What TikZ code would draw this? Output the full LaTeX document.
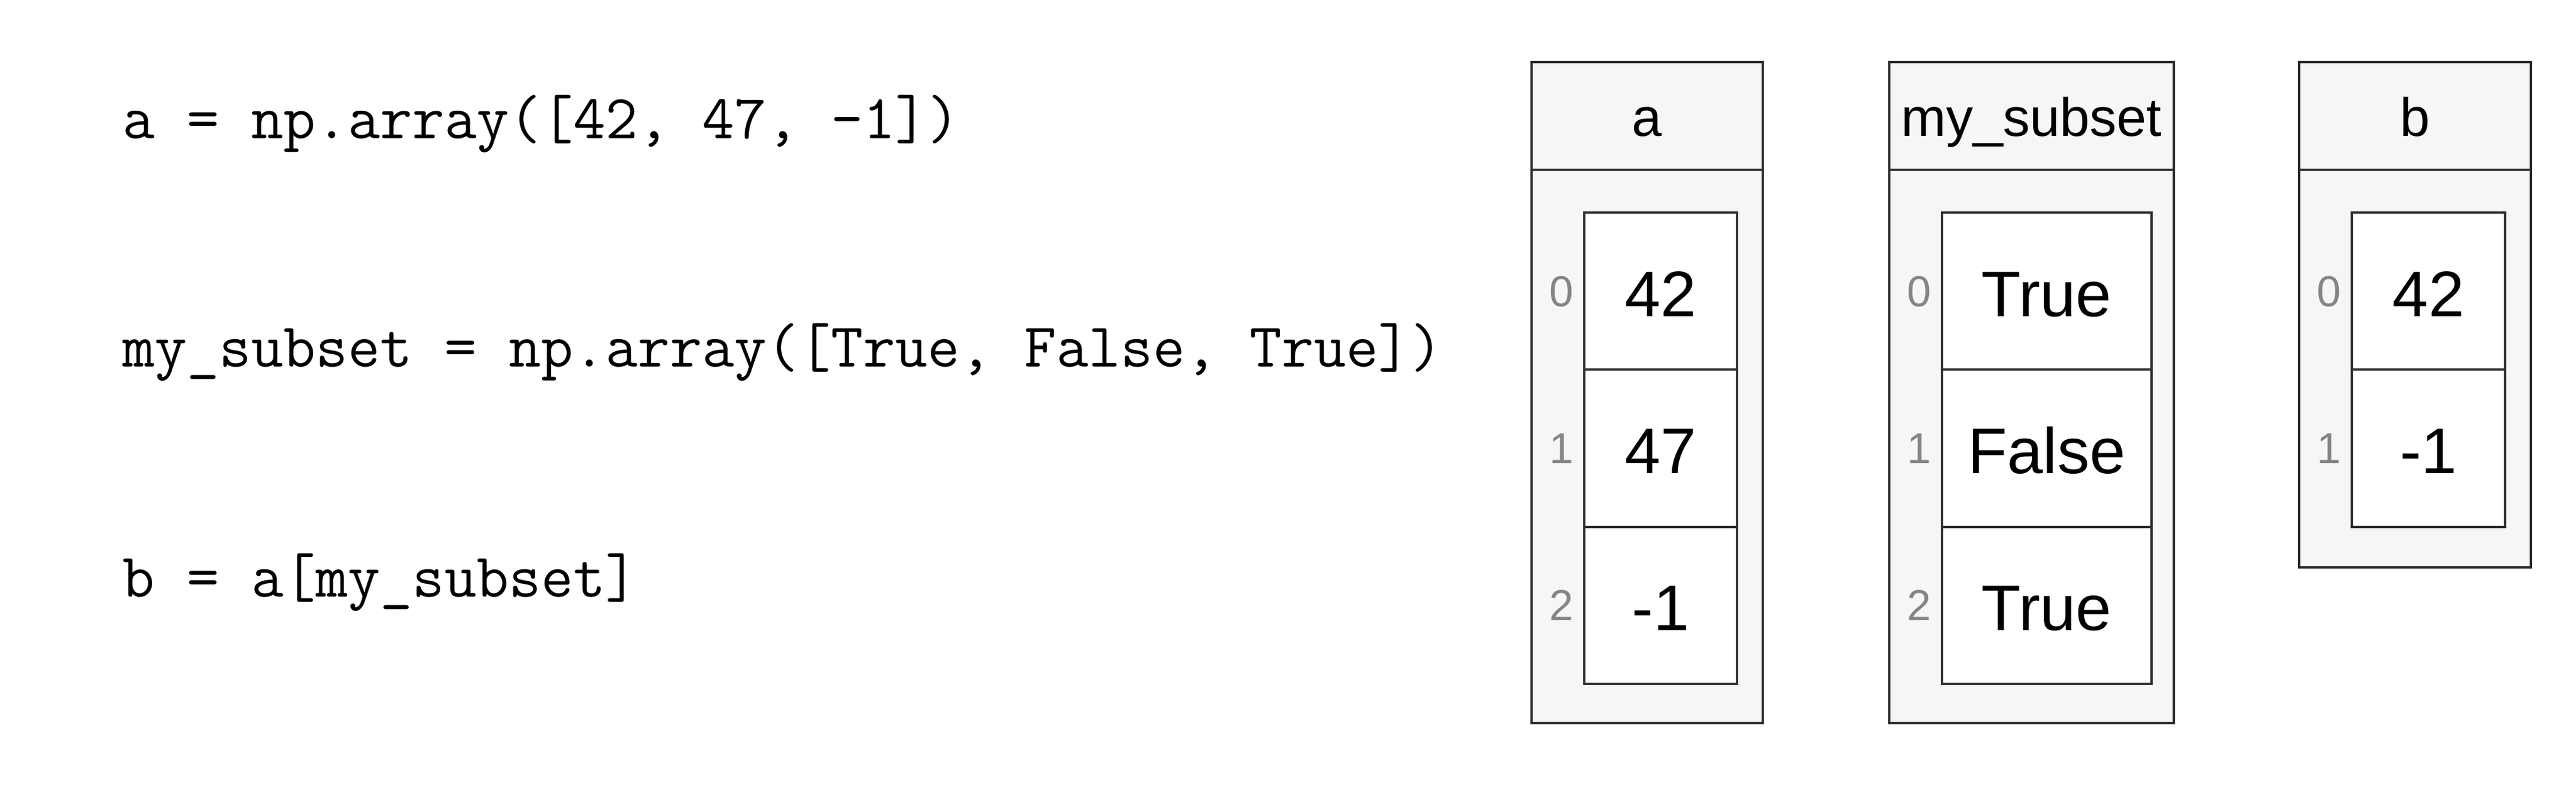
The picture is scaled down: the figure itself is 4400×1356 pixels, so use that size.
\documentclass[tikz,border=0pt]{standalone}
\usepackage{fontspec}
\newfontfamily\arialf{Liberation Sans}
\definecolor{boxfill}{HTML}{F5F6F8}
\definecolor{boxline}{HTML}{303030}
\definecolor{idxgray}{HTML}{858585}
\tikzset{
  frame/.style={draw=boxline, fill=boxfill, line width=1pt, rectangle, inner sep=0pt, anchor=north west},
  head/.style={frame, text height=17.5pt, text depth=0pt, font=\arialf\fontsize{23}{26}\selectfont},
  cellbox/.style={draw=boxline, fill=white, line width=1pt, rectangle, inner sep=0pt,
    minimum height=67.08pt, text height=21.5pt, text depth=0pt,
    font=\arialf\fontsize{27.5}{30}\selectfont},
  idx/.style={anchor=base, inner sep=0pt, text=idxgray, font=\arialf\fontsize{18.5}{20}\selectfont},
  code/.style={anchor=base west, inner sep=0pt, font=\ttfamily\fontsize{26.7}{29}\selectfont},
}
\begin{document}
\begin{tikzpicture}[x=0.25pt, y=-0.25pt]
\useasboundingbox (0,0) rectangle (4400,1356);

% code lines
\node[code] (l1) at (209,237) {a = np.array([42, 47, -1])};
\node[code] (l2) at (209,627) {my\_subset = np.array([True, False, True])};
\node[code] (l3) at (209,1019) {b = a[my\_subset]};

% array a
\node[frame, minimum width=98.75pt, minimum height=236.25pt] (aBody) at (2614,288) {};
\node[head, minimum width=98.75pt, minimum height=46pt] (aHead) at (2614,104) {a};
\node[cellbox, minimum width=65.25pt] (a0) at (2836.5,497.17) {42};
\node[cellbox, minimum width=65.25pt] (a1) at (2836.5,765.5) {47};
\node[cellbox, minimum width=65.25pt] (a2) at (2836.5,1033.83) {-1};
\node[idx] (ai0) at (2667,523.17) {0};
\node[idx] (ai1) at (2667,791.5) {1};
\node[idx] (ai2) at (2667,1059.83) {2};

% array my_subset
\node[frame, minimum width=121.5pt, minimum height=236.25pt] (mBody) at (3225,288) {};
\node[head, minimum width=121.5pt, minimum height=46pt] (mHead) at (3225,104) {my\_subset};
\node[cellbox, minimum width=89.5pt] (m0) at (3496,497.17) {True};
\node[cellbox, minimum width=89.5pt] (m1) at (3496,765.5) {False};
\node[cellbox, minimum width=89.5pt] (m2) at (3496,1033.83) {True};
\node[idx] (mi0) at (3278,523.17) {0};
\node[idx] (mi1) at (3278,791.5) {1};
\node[idx] (mi2) at (3278,1059.83) {2};

% array b
\node[frame, minimum width=99pt, minimum height=169.75pt] (bBody) at (3925,288) {};
\node[head, minimum width=99pt, minimum height=46pt] (bHead) at (3925,104) {b};
\node[cellbox, minimum width=65.5pt] (b0) at (4148,497.17) {42};
\node[cellbox, minimum width=65.5pt] (b1) at (4148,765.5) {-1};
\node[idx] (bi0) at (3978,523.17) {0};
\node[idx] (bi1) at (3978,791.5) {1};
\end{tikzpicture}
\end{document}
